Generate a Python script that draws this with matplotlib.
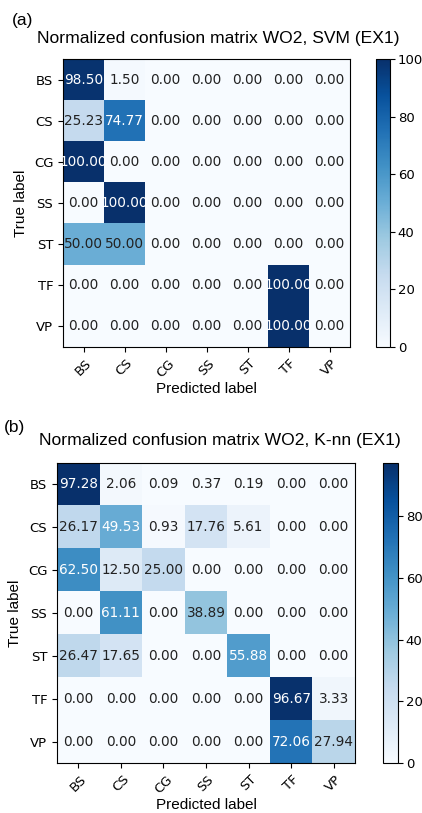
import numpy as np
import matplotlib
matplotlib.use('Agg')
import matplotlib.pyplot as plt

labels = ['BS', 'CS', 'CG', 'SS', 'ST', 'TF', 'VP']

# normalized confusion matrices (%), rows = true, cols = predicted
svm = np.array([
    [98.50, 1.50, 0.00, 0.00, 0.00, 0.00, 0.00],
    [25.23, 74.77, 0.00, 0.00, 0.00, 0.00, 0.00],
    [100.00, 0.00, 0.00, 0.00, 0.00, 0.00, 0.00],
    [0.00, 100.00, 0.00, 0.00, 0.00, 0.00, 0.00],
    [50.00, 50.00, 0.00, 0.00, 0.00, 0.00, 0.00],
    [0.00, 0.00, 0.00, 0.00, 0.00, 100.00, 0.00],
    [0.00, 0.00, 0.00, 0.00, 0.00, 100.00, 0.00],
])
knn = np.array([
    [97.28, 2.06, 0.09, 0.37, 0.19, 0.00, 0.00],
    [26.17, 49.53, 0.93, 17.76, 5.61, 0.00, 0.00],
    [62.50, 12.50, 25.00, 0.00, 0.00, 0.00, 0.00],
    [0.00, 61.11, 0.00, 38.89, 0.00, 0.00, 0.00],
    [26.47, 17.65, 0.00, 0.00, 55.88, 0.00, 0.00],
    [0.00, 0.00, 0.00, 0.00, 0.00, 96.67, 3.33],
    [0.00, 0.00, 0.00, 0.00, 0.00, 72.06, 27.94],
])

W, H = 422, 813
fig = plt.figure(figsize=(W / 100, H / 100), dpi=100)
lab_font = 'Liberation Sans'


def box(x0, y0, x1, y1):
    # pixel box -> figure fraction
    return [x0 / W, 1 - y1 / H, (x1 - x0) / W, (y1 - y0) / H]


def draw_cm(cm, ax_box, cax_box):
    ax = fig.add_axes(box(*ax_box))
    cax = fig.add_axes(box(*cax_box))
    im = ax.imshow(cm, interpolation='nearest', cmap=plt.cm.Blues, aspect='auto')
    cb = fig.colorbar(im, cax=cax)
    cb.ax.tick_params(labelsize=9.5, pad=2)
    ticks = np.arange(len(labels))
    ax.set_xticks(ticks)
    ax.set_xticklabels(labels, rotation=45, fontsize=9.5)
    ax.set_yticks(ticks)
    ax.set_yticklabels(labels, fontsize=9.5)
    thresh = cm.max() / 2.
    for i in range(cm.shape[0]):
        for j in range(cm.shape[1]):
            ax.text(j, i, format(cm[i, j], '.2f'), ha='center', va='center',
                    fontsize=9.8, color='white' if cm[i, j] > thresh else '#222222')
    ax.set_ylabel('True label', family=lab_font, fontsize=11)
    ax.set_xlabel('Predicted label', family=lab_font, fontsize=11, labelpad=2)
    return ax


draw_cm(svm, (63, 59, 350, 347), (376, 59, 390, 347))
draw_cm(knn, (57, 463, 355, 763), (383, 463, 398, 763))

fig.text(218 / W, 1 - 39 / H, 'Normalized confusion matrix WO2, SVM (EX1)',
         ha='center', va='center', family=lab_font, fontsize=12.6)
fig.text(220 / W, 1 - 440 / H, 'Normalized confusion matrix WO2, K-nn (EX1)',
         ha='center', va='center', family=lab_font, fontsize=12.6)
fig.text(12 / W, 1 - 20 / H, '(a)', ha='left', va='center', family=lab_font, fontsize=12.5)
fig.text(4 / W, 1 - 427 / H, '(b)', ha='left', va='center', family=lab_font, fontsize=12.5)

fig.savefig('out.png', dpi=100)
